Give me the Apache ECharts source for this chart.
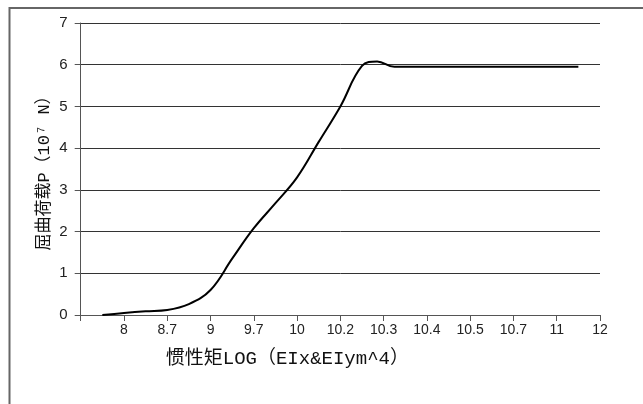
<!DOCTYPE html>
<html>
<head>
<meta charset="utf-8">
<script src="https://cdn.jsdelivr.net/npm/echarts@6/dist/echarts.min.js"></script>
<style>html,body{margin:0;padding:0;background:#fff}#c{width:643px;height:404px}</style>
</head>
<body>
<div id="c"></div>
<script>
// Tick labels along the x axis (position index 0..12; index 0 carries no label)
var tickLabels = ['', '8', '8.7', '9', '9.7', '10', '10.2', '10.3', '10.4', '10.5', '10.7', '11', '12'];
// Curve samples: position along the tick sequence and buckling load P (10^7 N)
var xPos = [0.5, 1, 1.5, 2, 2.5, 3, 3.5, 4, 4.5, 5, 5.5, 6, 6.5, 6.85, 7.25, 8, 9, 10, 11, 11.5];
var loadP = [0, 0.05, 0.09, 0.12, 0.26, 0.6, 1.35, 2.08, 2.68, 3.3, 4.15, 5.0, 5.97, 6.08, 5.95, 5.95, 5.95, 5.95, 5.95, 5.95];
var yName = '屈曲荷载P（10⁷ N）';
var xName = '惯性矩LOG（EIx&EIym^4）';

var chart = echarts.init(document.getElementById('c'), null, {renderer: 'canvas'});
var nameFont = '"Liberation Mono", "Noto Sans CJK SC", monospace';
chart.setOption({
  animation: false,
  backgroundColor: '#fff',
  graphic: [{
    type: 'rect', z: -10, silent: true,
    shape: {x: 9.5, y: 8, width: 700, height: 500},
    style: {fill: 'none', stroke: '#666', lineWidth: 2}
  }],
  grid: {left: 80.7, right: 43, top: 23, bottom: 89, containLabel: false},
  xAxis: {
    type: 'value', min: 0, max: 12, interval: 1,
    axisLine: {show: true, lineStyle: {color: '#555', width: 1}},
    axisTick: {show: true, length: 6, inside: false, lineStyle: {color: '#555'}},
    axisLabel: {
      color: '#222', fontSize: 14, fontFamily: 'Liberation Sans, Arial, sans-serif', margin: 8,
      formatter: function (v) { return tickLabels[Math.round(v)] || ''; }
    },
    splitLine: {show: false},
    name: xName, nameLocation: 'middle', nameGap: 34, nameMoveOverlap: false,
    nameTextStyle: {color: '#111', fontSize: 19, fontFamily: nameFont, padding: [0, 106, 0, 0]}
  },
  yAxis: {
    type: 'value', min: 0, max: 7, interval: 1,
    axisLine: {show: true, lineStyle: {color: '#555', width: 1}},
    axisTick: {show: true, length: 6, lineStyle: {color: '#555'}},
    axisLabel: {color: '#222', fontSize: 15, fontFamily: 'Liberation Sans, Arial, sans-serif', margin: 13},
    splitLine: {show: true, lineStyle: {color: '#333', width: 1}},
    name: yName, nameLocation: 'middle', nameGap: 28, nameRotate: 90, nameMoveOverlap: false,
    nameTextStyle: {color: '#111', fontSize: 17, fontFamily: nameFont}
  },
  series: [{
    type: 'line',
    data: xPos.map(function (x, i) { return [x, loadP[i]]; }),
    smooth: 0.4,
    showSymbol: false,
    symbol: 'none',
    lineStyle: {color: '#000', width: 2}
  }]
});
</script>
</body>
</html>
